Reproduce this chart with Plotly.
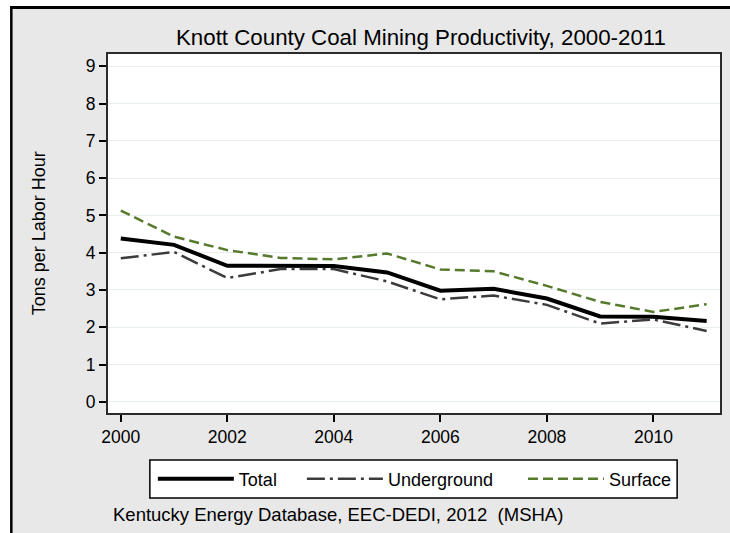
import plotly.graph_objects as go

years = [2000, 2001, 2002, 2003, 2004, 2005, 2006, 2007, 2008, 2009, 2010, 2011]
total = [4.38, 4.21, 3.65, 3.65, 3.64, 3.47, 2.98, 3.03, 2.77, 2.29, 2.28, 2.17]
underground = [3.85, 4.02, 3.32, 3.56, 3.56, 3.23, 2.75, 2.85, 2.60, 2.10, 2.21, 1.90]
surface = [5.13, 4.43, 4.07, 3.86, 3.82, 3.98, 3.55, 3.50, 3.11, 2.68, 2.41, 2.62]

x_ticks = [2000, 2002, 2004, 2006, 2008, 2010]
y_ticks = [0, 1, 2, 3, 4, 5, 6, 7, 8, 9]

FONT = "Arial, Liberation Sans, sans-serif"
NB = "\u00a0"

fig = go.Figure()
fig.add_trace(go.Scatter(x=years, y=total, name="Total" + NB * 4, mode="lines",
                         line=dict(color="#000000", width=4)))
fig.add_trace(go.Scatter(x=years, y=underground, name="Underground" + NB * 5, mode="lines",
                         line=dict(color="#3c3c3c", width=2.5, dash="18px,5px,3px,5px")))
fig.add_trace(go.Scatter(x=years, y=surface, name="Surface", mode="lines",
                         line=dict(color="#557a2c", width=2.5, dash="10px,5px")))

W, H = 730, 533
L, R, T, B = 108, 722, 54, 413
pw, ph = R - L, B - T

def px(xp):
    return (xp - L) / pw

def py(yp):
    return (B - yp) / ph

LEG_T, LEG_B = 460, 498

fig.update_layout(
    width=W, height=H,
    margin=dict(l=L, r=W - R, t=T, b=H - B),
    paper_bgcolor="#e8e8e8",
    plot_bgcolor="#ffffff",
    font=dict(family=FONT, color="#000000", size=17.5),
    showlegend=True,
    title=dict(text="Knott County Coal Mining Productivity, 2000-2011",
               xref="container", yref="container",
               x=421 / W, y=1 - 37 / H, xanchor="center", yanchor="middle",
               font=dict(size=22.3, family=FONT, color="#000000")),
    legend=dict(orientation="h", x=px(153), y=py((LEG_T + LEG_B) / 2),
                xanchor="left", yanchor="middle",
                bgcolor="rgba(0,0,0,0)", borderwidth=0,
                font=dict(size=18, family=FONT), itemwidth=76, traceorder="normal"),
    xaxis=dict(range=[1999.76, 2011.25], tickvals=x_ticks, ticktext=[str(v) for v in x_ticks],
               showgrid=False, zeroline=False, showline=True, mirror=True,
               linecolor="#2b2b2b", linewidth=2, ticks="outside", ticklen=7,
               tickcolor="#000000", tickwidth=1.5, tickfont=dict(size=17.5)),
    yaxis=dict(range=[-0.3, 9.33], tickvals=y_ticks, ticktext=[str(v) for v in y_ticks],
               showgrid=True, gridcolor="#e6eeee", gridwidth=1, zeroline=False,
               showline=True, mirror=True, linecolor="#2b2b2b", linewidth=2,
               ticks="outside", ticklen=7, tickcolor="#000000", tickwidth=1.5,
               tickfont=dict(size=17.5)),
    shapes=[
        dict(type="rect", xref="paper", yref="paper", x0=px(-5), x1=px(10), y0=py(540), y1=py(-5),
             fillcolor="#ffffff", line=dict(width=0), layer="below"),
        dict(type="rect", xref="paper", yref="paper", x0=px(-5), x1=px(740), y0=py(6), y1=py(-5),
             fillcolor="#ffffff", line=dict(width=0), layer="below"),
        dict(type="line", xref="paper", yref="paper", x0=px(11), x1=px(11), y0=py(540), y1=py(6),
             line=dict(color="#000000", width=2.5)),
        dict(type="line", xref="paper", yref="paper", x0=px(10), x1=px(740), y0=py(7.5), y1=py(7.5),
             line=dict(color="#000000", width=3)),
        dict(type="rect", xref="paper", yref="paper", x0=px(150), x1=px(679),
             y0=py(LEG_B), y1=py(LEG_T), fillcolor="#ffffff",
             line=dict(color="#000000", width=1.5), layer="below"),
    ],
    annotations=[
        dict(text="Tons per Labor Hour", xref="paper", yref="paper", x=px(39), y=py(233),
             xanchor="center", yanchor="middle", textangle=-90, showarrow=False,
             font=dict(size=18, family=FONT)),
        dict(text="Kentucky Energy Database, EEC-DEDI, 2012  (MSHA)", xref="paper", yref="paper",
             x=px(111), y=py(514), xanchor="left", yanchor="middle", showarrow=False,
             font=dict(size=18.5, family=FONT)),
    ],
)

post = ("document.documentElement.style.margin='0';document.body.style.margin='0';"
        "document.body.style.padding='0';document.documentElement.style.overflow='hidden';"
        "document.body.style.overflow='hidden';")
fig.write_html("out.html", post_script=post, config={"displayModeBar": False})
